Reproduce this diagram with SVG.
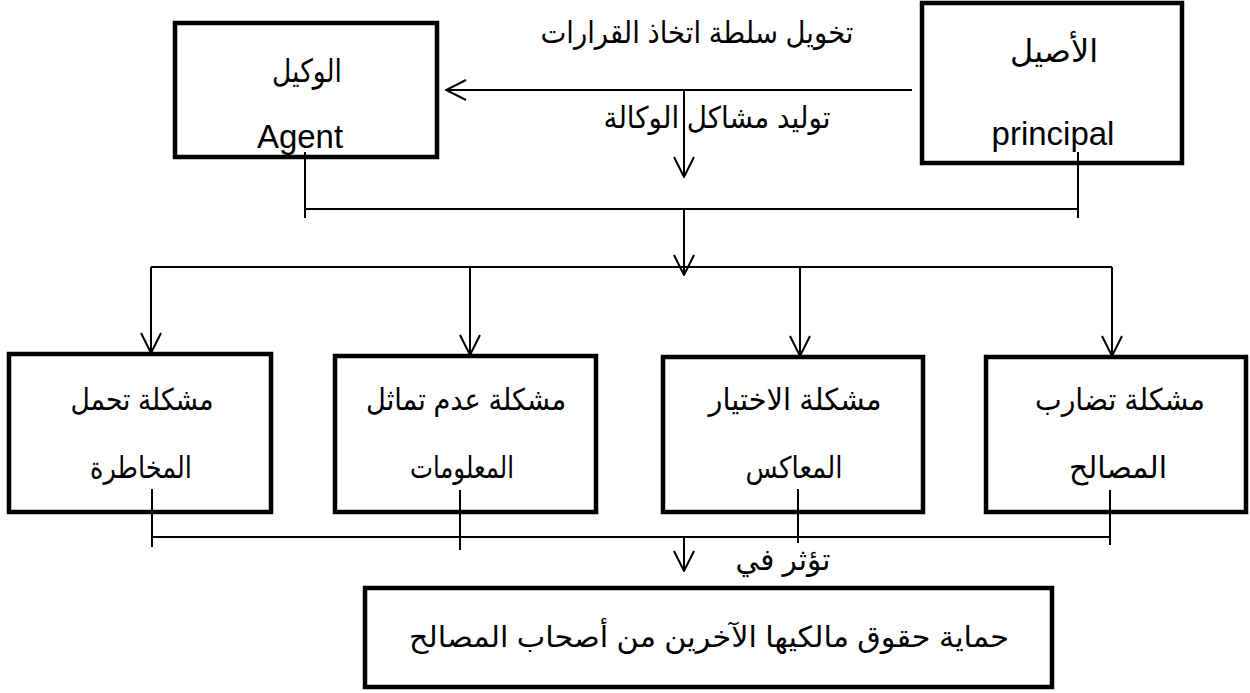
<svg xmlns="http://www.w3.org/2000/svg" width="1250" height="693" viewBox="0 0 1250 693">
<style>
.box{fill:#fff;stroke:#000;stroke-width:4.5}
.ln{fill:none;stroke:#000;stroke-width:2}
.ar{fill:none;stroke:#000;stroke-width:2;marker-end:url(#v)}
text{font-family:"Liberation Sans","DejaVu Sans",sans-serif;fill:#000;text-anchor:middle}
.lat{font-size:33px}
.big{font-size:32px}
.mid{font-size:30px}
.sm{font-size:29px}
</style>
<defs>
<marker id="v" viewBox="0 0 22 22" refX="21" refY="11" markerWidth="22" markerHeight="22" markerUnits="userSpaceOnUse" orient="auto">
<path d="M1,1 L21,11 L1,21" fill="none" stroke="#000" stroke-width="2"/>
</marker>
</defs>
<g id="agent"><rect class="box" x="175" y="23" width="262" height="134"/><text class="big" x="307" y="82" textLength="70" lengthAdjust="spacingAndGlyphs">الوكيل</text><text class="lat" x="300" y="148">Agent</text></g>
<g id="principal"><rect class="box" x="922" y="3" width="260" height="160"/><text class="big" x="1054" y="62" textLength="88" lengthAdjust="spacingAndGlyphs">الأصيل</text><text class="lat" x="1053" y="145">principal</text></g>
<g id="p1"><rect class="box" x="9" y="354" width="262" height="158"/><text class="mid" x="142" y="410" textLength="143" lengthAdjust="spacingAndGlyphs">مشكلة تحمل</text><text class="mid" x="141" y="478" textLength="102" lengthAdjust="spacingAndGlyphs">المخاطرة</text></g>
<g id="p2"><rect class="box" x="335" y="356" width="261" height="156"/><text class="mid" x="466" y="410" textLength="200" lengthAdjust="spacingAndGlyphs">مشكلة عدم تماثل</text><text class="mid" x="462" y="478" textLength="104" lengthAdjust="spacingAndGlyphs">المعلومات</text></g>
<g id="p3"><rect class="box" x="663" y="357" width="260" height="155"/><text class="mid" x="795" y="410" textLength="173" lengthAdjust="spacingAndGlyphs">مشكلة الاختيار</text><text class="mid" x="794" y="478" textLength="97" lengthAdjust="spacingAndGlyphs">المعاكس</text></g>
<g id="p4"><rect class="box" x="986" y="357" width="260" height="155"/><text class="mid" x="1120" y="410" textLength="170" lengthAdjust="spacingAndGlyphs">مشكلة تضارب</text><text class="mid" x="1118" y="478" textLength="98" lengthAdjust="spacingAndGlyphs">المصالح</text></g>
<g id="result"><rect class="box" x="365" y="588" width="687" height="99"/><text class="sm" x="709" y="647" textLength="600" lengthAdjust="spacingAndGlyphs">حماية حقوق مالكيها الآخرين من أصحاب المصالح</text></g>
<g id="connectors">
<path class="ar" d="M912,90 L446,90"/>
<path class="ar" d="M684,90 L684,177"/>
<path class="ln" d="M305,152 L305,218 M1078,152 L1078,218 M305,209 L1078,209"/>
<path class="ar" d="M684,209 L684,275"/>
<path class="ln" d="M151,267 L1112,267"/>
<path class="ar" d="M151,267 L151,353"/>
<path class="ar" d="M470,267 L470,355"/>
<path class="ar" d="M800,267 L800,356"/>
<path class="ar" d="M1112,267 L1112,356"/>
<path class="ln" d="M152,489 L152,547 M460,490 L460,550 M798,489 L798,543 M1110,490 L1110,545 M152,537 L1110,537"/>
<path class="ar" d="M684,537 L684,571"/>
</g>
<g id="labels">
<text class="mid" x="697" y="43" textLength="313" lengthAdjust="spacingAndGlyphs">تخويل سلطة اتخاذ القرارات</text>
<text class="mid" x="717" y="128" textLength="227" lengthAdjust="spacingAndGlyphs">توليد مشاكل الوكالة</text>
<text class="mid" x="783" y="570" textLength="95" lengthAdjust="spacingAndGlyphs">تؤثر في</text>
</g>
</svg>
